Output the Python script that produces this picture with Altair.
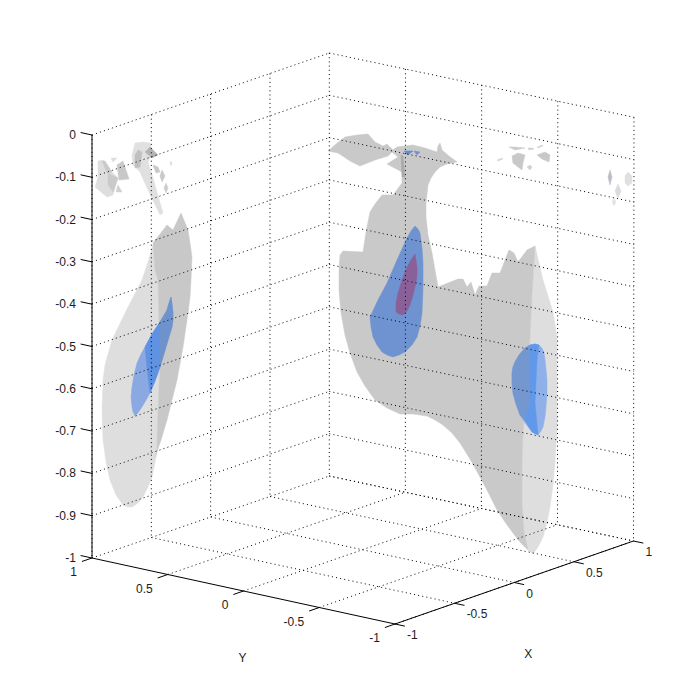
import altair as alt
import pandas as pd

# ---- axis values
x_ticks = [-1, -0.5, 0, 0.5, 1]
y_ticks = [1, 0.5, 0, -0.5, -1]
z_ticks = [0, -0.1, -0.2, -0.3, -0.4, -0.5, -0.6, -0.7, -0.8, -0.9, -1]

# ---- picture-space corners of the 3D box (X, Y) -> floor / top position
floor_c = {(-1, 1): (92, 558), (1, 1): (329.3, 476), (1, -1): (633.5, 541), (-1, -1): (395, 624)}
top_c = {(-1, 1): (92, 135), (1, 1): (329.3, 53), (1, -1): (634, 117.3), (-1, -1): (395, 201)}


def bilin(c, X, Y):
    u, v = (X + 1) / 2, (Y + 1) / 2
    out = []
    for k in (0, 1):
        out.append((1 - u) * (1 - v) * c[(-1, -1)][k] + u * (1 - v) * c[(1, -1)][k]
                   + u * v * c[(1, 1)][k] + (1 - u) * v * c[(-1, 1)][k])
    return out


def P(X, Y, Z):
    f, t = bilin(floor_c, X, Y), bilin(top_c, X, Y)
    w = -Z
    return (t[0] * (1 - w) + f[0] * w, t[1] * (1 - w) + f[1] * w)


# ---- silhouettes
body_dark = [(328,151),(336,144),(345,137),(357,135),(368,134),(375,142),(383,146),(387,144),(393,150),(397,147),(413,145),(425,148),
             (437,152),(438,146),(440,143),(442,150),(449,156),(457,162),(447,164),(440,167),(435,172),(431,178),(428,185),(426,203),(426,217),
             (428,235),(432,253),(438,287),(458,279),(463,279),(467,287),(471,282),(475,295),(479,286),(487,286),(492,273),
             (500,273),(509,250),(514,253),(518,262),(527,250),(535,246),(532,293),(530,337),(527,390),(523,433),
             (522,463),(522,503),(524,533),(528,550),(520,542),(513,533),(505,522),(497,510),(488,492),(480,477),(470,459),
             (460,443),(452,433),(443,425),(435,420),(427,416),(413,414),(400,414),(387,408),(375,400),(365,386),(357,372),
             (350,353),(345,335),(341,313),(339,290),(339,270),(340,255),(343,251),(363,252),(366,232),(370,212),(375,204),(382,195),
             (393,195),(402,183),(402,172),(387,164),(398,157),(392,152),(388,156),(375,160),(360,166),(350,161),(338,153)]
body_light = [(535,246),(543,280),(553,312),(557,337),(557,430),(556,445),(555,463),(553,485),(550,507),(547,522),(543,537),(538,547),(533,554),(528,550),
              (524,533),(522,503),(522,463),(523,433),(527,390),(530,337),(532,293)]
lobe_blue = [(415,226),(418,229),(420,233),(422,248),(423,263),(423,288),(422,313),(420,326),(417,337),(412,345),(405,352),
             (399,355),(393,357),(387,355),(382,352),(377,345),(373,337),(371,327),(370,317),(378,300),(387,283),(397,260),(407,238),(411,231)]
lobe_purple = [(415,254),(416,260),(417,267),(417,275),(416,283),(413,295),(410,305),(407,311),(403,315),(399,314),(396,312),
               (396,303),(398,293),(402,280),(407,267),(411,260)]
side_all = [(535,344),(530,345),(525,348),(519,355),(515,362),(513,367),(512,373),(512,383),(513,393),(516,404),(520,415),(526,424),
            (532,432),(538,435),(541,431),(543,427),(545,417),(546,407),(547,393),(547,380),(546,369),(545,360),(544,353),(542,348),(539,345)]
side_dark = [(530,345),(525,348),(519,355),(515,362),(513,367),(512,373),(512,383),(513,393),(516,404),(520,415),(525,421),(530,400),(530,370)]
side_mid = [(530,345),(535,344),(539,345),(537,360),(535,403),(538,435),(532,432),(525,421),(530,400),(530,370)]
neck_line = [(401,155),(403,156),(405,177),(402,177)]
spot_a = [(404,151),(413,151),(408,155)]
spot_b = [(414,151),(420,152),(417,155)]

isl_r = [
    ([(509,147),(515,147),(525,148),(515,150)], "#cbcbcb"),
    ([(528,148),(533,148),(534,149),(529,150)], "#d0d0d0"),
    ([(537,147),(543,145),(543,146),(538,148)], "#d0d0d0"),
    ([(497,160),(502,158),(503,159),(498,161)], "#d4d4d4"),
    ([(512,156),(518,153),(525,155),(523,163),(522,170),(518,167),(513,163)], "#c8c8c8"),
    ([(537,155),(545,152),(550,155),(549,162),(542,159)], "#c8c8c8"),
    ([(527,167),(530,165),(532,167),(530,170)], "#d0d0d0"),
    ([(610,170),(612,177),(610,185),(608,177)], "#bcbcc8"),
    ([(618,184),(621,191),(618,198),(615,191)], "#dadade"),
    ([(628,172),(632,176),(632,183),(628,186),(625,183),(625,176)], "#e0e0e0"),
    ([(614,198),(616,202),(614,206),(612,202)], "#e4e4e4"),
]

left_dark = [(153,243),(167,225),(173,230),(181,213),(188,230),(190,243),(192,257),(191,280),(190,297),(188,313),(183,347),(177,380),(172,400),(167,420),
             (161,440),(155,457),(157,450),(158,413),(160,363),(158,280),(155,270)]
left_light = [(142,280),(148,262),(153,245),(155,270),(158,280),(160,363),(158,413),(158,447),(155,462),(152,477),(148,487),(143,497),(138,503),(132,507),(128,507),
              (123,505),(116,495),(110,480),(106,462),(103,440),(102,410),(103,380),(105,365),(112,340),(127,309)]
left_blue = [(171,297),(172,304),(173,313),(173,320),(172,327),(166,347),(160,367),(155,381),(150,393),(145,402),(140,410),(137,414),
             (135,416),(133,412),(132,407),(131,397),(132,387),(134,375),(137,363),(141,354),(145,347),(152,334),(160,322),(167,310),(169,303)]
left_blue_mid = [(145,347),(152,334),(160,322),(160,367),(155,381),(150,393),(148,377)]
left_blue_dark = [(160,322),(167,310),(169,303),(171,297),(172,304),(173,313),(173,320),(172,327),(166,347),(160,367)]

isl_l = [
    ([(98,161),(103,160),(110,170),(118,178),(113,195),(107,197),(95,187),(98,177)], "#dedede"),
    ([(102,161),(105,161),(112,172),(107,173)], "#cacaca"),
    ([(108,173),(118,178),(113,192),(108,185)], "#cacaca"),
    ([(117,165),(123,161),(129,179),(119,180)], "#c8c8c8"),
    ([(111,158),(117,158),(113,162)], "#dcdcdc"),
    ([(116,192),(118,185),(122,192)], "#d0d0d0"),
    ([(132,155),(135,143),(143,142),(150,143),(153,152),(148,162),(153,178),(163,213),(160,215),(148,190),(140,172),(133,165)], "#e0e0e0"),
    ([(135,155),(138,150),(142,152),(140,167),(135,168)], "#c0c0c0"),
    ([(145,152),(150,147),(158,155),(152,158)], "#b4b4b4"),
    ([(153,165),(158,167),(160,172),(156,173)], "#c8c8c8"),
    ([(162,170),(165,176),(162,182),(160,176)], "#c8c8c8"),
    ([(166,183),(168,188),(166,193),(164,188)], "#cccccc"),
    ([(171,161),(172,163),(171,166),(170,163)], "#dddddd"),
]

shapes = [
    (left_light, "#dedede"), (left_dark, "#c8c8c8"),
    (left_blue, "#8aa9e2"), (left_blue_mid, "#5f92e2"), (left_blue_dark, "#6e92cc"),
    (body_light, "#dedede"), (body_dark, "#c9c9c9"),
    (lobe_blue, "#6f93d0"), (lobe_purple, "#8a6099"),
    (side_all, "#8fb0e8"), (side_dark, "#7497cf"), (side_mid, "#6198ea"),
    (neck_line, "#aaaaaa"), (spot_a, "#5c8cd8"), (spot_b, "#6f90c8"),
] + isl_l + isl_r

# ---- scales: 1 unit = 1 picture pixel
SX = alt.Scale(domain=[8, 692], range=[0, 684])
SY = alt.Scale(domain=[8, 692], range=[0, 684])
XE = alt.X("px:Q", scale=SX, axis=None)
YE = alt.Y("py:Q", scale=SY, axis=None)


def poly(pts, color):
    df = pd.DataFrame({"px": [p[0] for p in pts], "py": [p[1] for p in pts], "i": range(len(pts))})
    return alt.Chart(df).mark_line(interpolate="linear-closed", fill=color, stroke=color, strokeWidth=0.5).encode(
        x=XE, y=YE, order="i:Q")


def segs(rows, **style):
    recs = []
    for g, (a, b) in enumerate(rows):
        recs.append({"px": a[0], "py": a[1], "g": g, "i": 0})
        recs.append({"px": b[0], "py": b[1], "g": g, "i": 1})
    return alt.Chart(pd.DataFrame(recs)).mark_line(**style).encode(x=XE, y=YE, detail="g:N", order="i:Q")


# ---- grid
grid = []
for z in z_ticks:
    grid.append((P(-1, 1, z), P(1, 1, z)))
    grid.append((P(1, 1, z), P(1, -1, z)))
for x in x_ticks:
    grid.append((P(x, 1, 0), P(x, 1, -1)))
    if x > -1:
        grid.append((P(x, 1, -1), P(x, -1, -1)))
for y in y_ticks:
    if y < 1:
        grid.append((P(1, y, 0), P(1, y, -1)))
        grid.append((P(-1, y, -1), P(1, y, -1)))

# ---- axes and tick marks
axes = [(P(-1, 1, 0), P(-1, 1, -1)), (P(-1, 1, -1), P(-1, -1, -1)), (P(-1, -1, -1), P(1, -1, -1))]
for z in z_ticks:
    axes.append((P(-1, 1, z), P(-1, 1.075, z)))
for y in y_ticks:
    axes.append((P(-1, y, -1), P(-1.085, y, -1)))
for x in x_ticks:
    axes.append((P(x, -1, -1), P(x, -1.065, -1)))


def fmt(v):
    return f"{v:g}"


def labels(rows, align, dx, dy):
    df = pd.DataFrame([{"px": p[0], "py": p[1], "t": t} for p, t in rows])
    return alt.Chart(df).mark_text(font="Liberation Sans", fontSize=12, color="#1c1c1c", align=align,
                                   baseline="middle", dx=dx, dy=dy).encode(x=XE, y=YE, text="t:N")


z_lab = labels([(P(-1, 1, z), fmt(z)) for z in z_ticks], "right", -16, 0)
y_lab = labels([(P(-1, y, -1), fmt(y)) for y in y_ticks], "right", -15, 14)
x_lab = labels([(P(x, -1, -1), fmt(x)) for x in x_ticks], "left", 12, 11)
y_title = labels([(P(-1, 0, -1), "Y")], "center", -1, 67)
x_title = labels([(P(0, -1, -1), "X")], "center", 14, 71)

layers = [poly(p, c) for p, c in shapes]
layers += [segs(grid, color="#000000", strokeWidth=1, strokeDash=[1, 3.2]),
           segs(axes, color="#000000", strokeWidth=1),
           z_lab, y_lab, x_lab, y_title, x_title]

chart = alt.layer(*layers).properties(
    width=684, height=684, padding=0, autosize=alt.AutoSizeParams(type="none")
).configure_view(stroke=None)

chart.save("out.html", embed_options={"renderer": "svg", "actions": False})
